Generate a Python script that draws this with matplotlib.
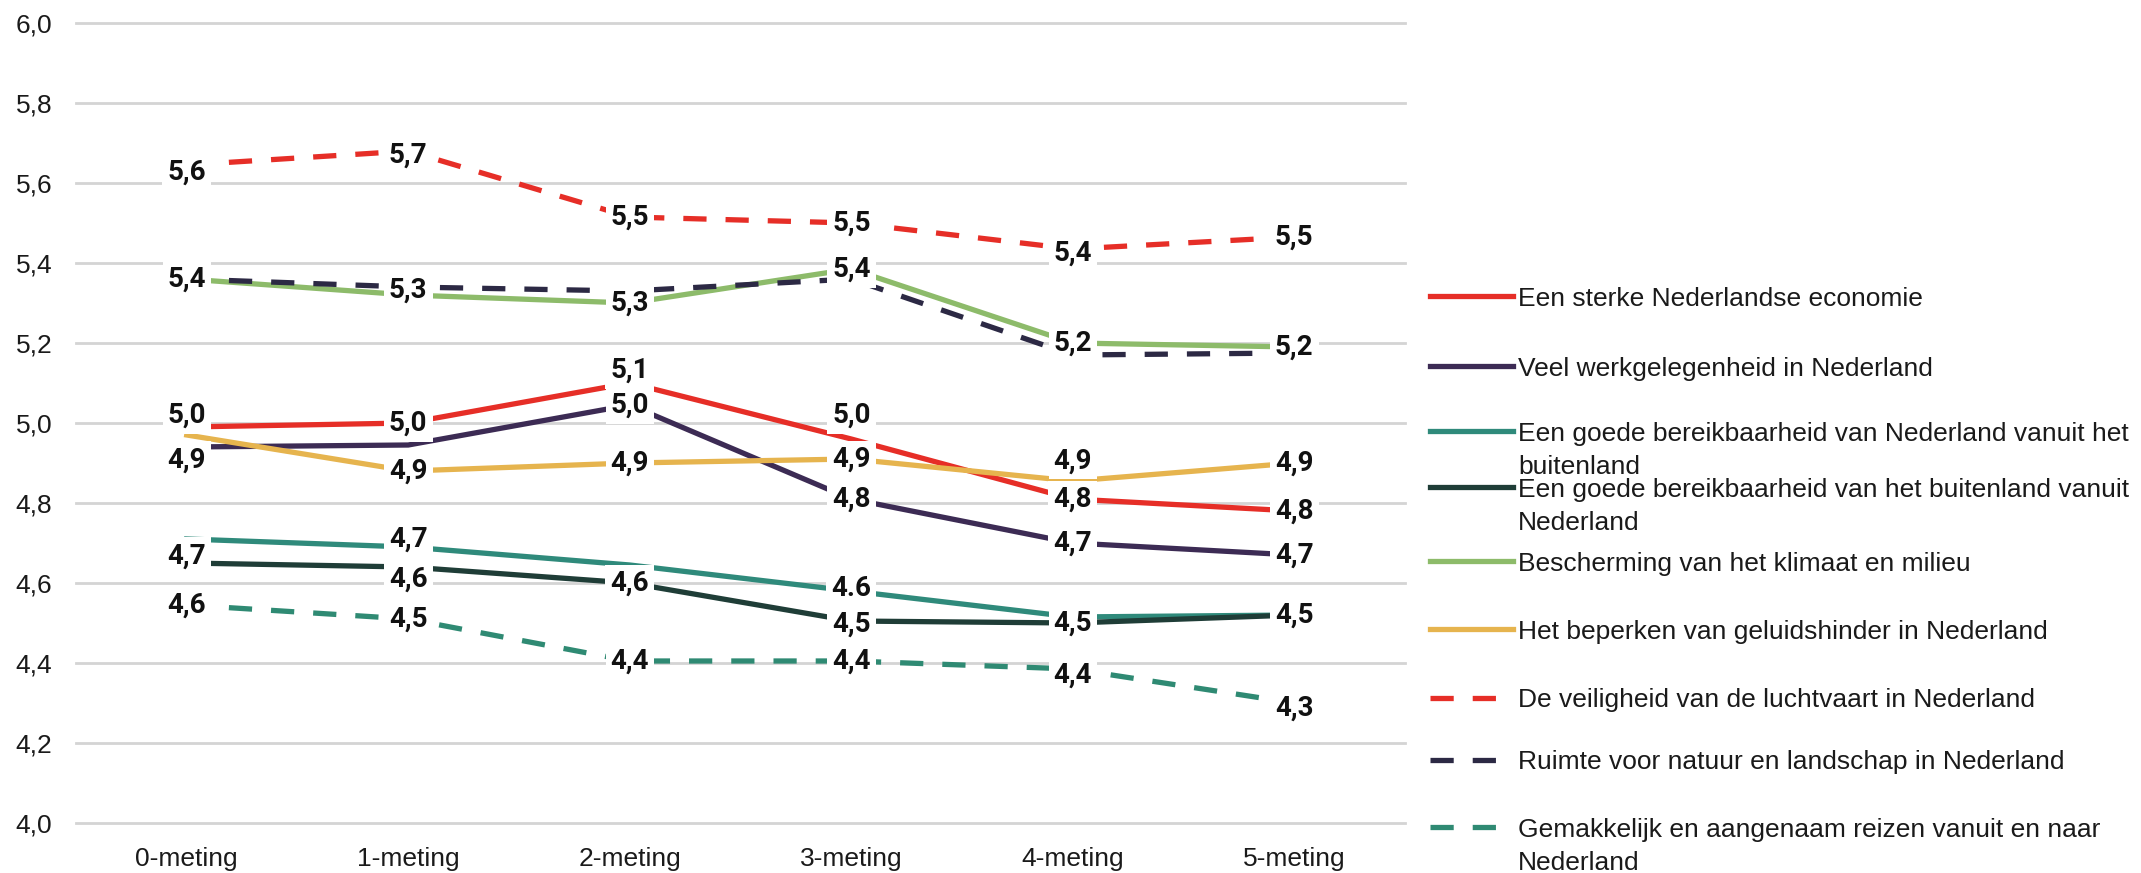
import matplotlib.pyplot as plt
from matplotlib.lines import Line2D

metingen = ['0-meting', '1-meting', '2-meting', '3-meting', '4-meting', '5-meting']

# gemiddelde scores per meting
economie = [4.99, 5.00, 5.10, 4.96, 4.81, 4.78]
werkgelegenheid = [4.94, 4.945, 5.045, 4.81, 4.70, 4.67]
bereik_nl = [4.71, 4.69, 4.645, 4.58, 4.515, 4.52]
bereik_bl = [4.65, 4.64, 4.60, 4.505, 4.50, 4.52]
klimaat = [5.36, 5.32, 5.30, 5.385, 5.20, 5.19]
geluid = [4.97, 4.88, 4.90, 4.91, 4.855, 4.90]
veiligheid = [5.645, 5.68, 5.515, 5.50, 5.435, 5.465]
natuur = [5.36, 5.34, 5.33, 5.36, 5.17, 5.175]
reizen = [4.545, 4.51, 4.405, 4.405, 4.385, 4.30]

# zichtbare datalabels ('' = verborgen achter een ander label)
lab_economie = ['5,0', '5,0', '5,1', '5,0', '4,8', '4,8']
lab_werk = ['4,9', '', '5,0', '4,8', '4,7', '4,7']
lab_bereik_nl = ['', '4,7', '', '4.6', '', '']
lab_bereik_bl = ['4,7', '4,6', '4,6', '4,5', '4,5', '4,5']
lab_klimaat = ['5,4', '', '5,3', '5,4', '5,2', '5,2']
lab_geluid = ['', '4,9', '4,9', '4,9', '4,9', '4,9']
lab_veilig = ['5,6', '5,7', '5,5', '5,5', '5,4', '5,5']
lab_natuur = ['', '5,3', '', '', '', '']
lab_reizen = ['4,6', '4,5', '4,4', '4,4', '4,4', '4,3']

namen = ['Een sterke Nederlandse economie',
         'Veel werkgelegenheid in Nederland',
         'Een goede bereikbaarheid van Nederland vanuit het\nbuitenland',
         'Een goede bereikbaarheid van het buitenland vanuit\nNederland',
         'Bescherming van het klimaat en milieu',
         'Het beperken van geluidshinder in Nederland',
         'De veiligheid van de luchtvaart in Nederland',
         'Ruimte voor natuur en landschap in Nederland',
         'Gemakkelijk en aangenaam reizen vanuit en naar\nNederland']

waarden = [economie, werkgelegenheid, bereik_nl, bereik_bl, klimaat, geluid,
           veiligheid, natuur, reizen]
labels = [lab_economie, lab_werk, lab_bereik_nl, lab_bereik_bl, lab_klimaat,
          lab_geluid, lab_veilig, lab_natuur, lab_reizen]

kleuren = ['#e62e27', '#3c2b54', '#2f8a7b', '#1f3d37', '#8dbb6a', '#e6b44e',
           '#e62e27', '#2c2944', '#2f8a73']
dash = (0, (4.4, 3.6))
stijlen = ['-', '-', '-', '-', '-', '-', dash, dash, dash]

# kleine verschuivingen van labels (pixels, + = omhoog)
nudge = {(0, 0): 12, (1, 0): -13, (0, 2): 13, (0, 3): 24, (5, 4): 20,
         (3, 0): 7, (3, 1): -12, (2, 1): 8, (6, 0): -7, (6, 1): -4,
         (6, 4): -4, (8, 4): -6, (8, 5): -5, (7, 1): -3, (2, 3): 3, (3, 3): -3}

fig = plt.figure(figsize=(21.41, 8.73), dpi=100)
ax = fig.add_axes([76/2141, 50/873, 1329/2141, 800/873])

x = range(len(metingen))
for k in range(len(waarden)):
    ax.plot(x, waarden[k], color=kleuren[k], linestyle=stijlen[k], lw=3.8,
            zorder=3)

# labels van achter naar voren, zodat de bovenste reeksen leesbaar blijven
for k in reversed(range(len(waarden))):
    for i, t in enumerate(labels[k]):
        if not t:
            continue
        ax.annotate(t, (i, waarden[k][i]), xytext=(0, nudge.get((k, i), 0)),
                    textcoords='offset pixels', ha='center', va='center',
                    fontsize=20, fontweight='bold', family=['Roboto', 'DejaVu Sans'],
                    color='#111111', zorder=6,
                    bbox=dict(boxstyle='square,pad=0.18', fc='white', ec='none'))

ax.set_xlim(-0.5, 5.5)
ax.set_ylim(4.0, 6.0)
ticks = [4.0 + 0.2*i for i in range(11)]
ax.set_yticks(ticks)
ax.set_yticklabels([f'{t:.1f}'.replace('.', ',') for t in ticks])
ax.set_xticks(list(x))
ax.set_xticklabels(metingen)
for lab in ax.get_xticklabels() + ax.get_yticklabels():
    lab.set_family(['Liberation Sans', 'DejaVu Sans'])
    lab.set_fontsize(19)
    lab.set_color('#1a1a1a')
ax.tick_params(axis='y', length=0, pad=17)
ax.tick_params(axis='x', length=0, pad=17)
ax.yaxis.grid(True, color='#d4d4d4', lw=2)
ax.set_axisbelow(True)
for gl in ax.get_ygridlines():
    gl.set_clip_on(False)
for s in ax.spines.values():
    s.set_visible(False)

# legenda rechts, elke tekstregel apart zodat de lijn bij de eerste regel staat
leg_y = [296, 366, 431, 487, 561, 629, 698, 760, 827]  # pixels vanaf boven
regel = 33/873
for k in range(len(namen)):
    y = 1 - leg_y[k]/873
    fig.add_artist(Line2D([1430/2141, 1513/2141], [y, y], transform=fig.transFigure,
                          color=kleuren[k], linestyle=stijlen[k], lw=3.8))
    for j, tekst in enumerate(namen[k].split('\n')):
        fig.text(1518/2141, y - j*regel, tekst, va='center_baseline', ha='left',
                 fontsize=19, family=['Liberation Sans', 'DejaVu Sans'],
                 color='#1a1a1a')

fig.savefig('out.png', dpi=100)
